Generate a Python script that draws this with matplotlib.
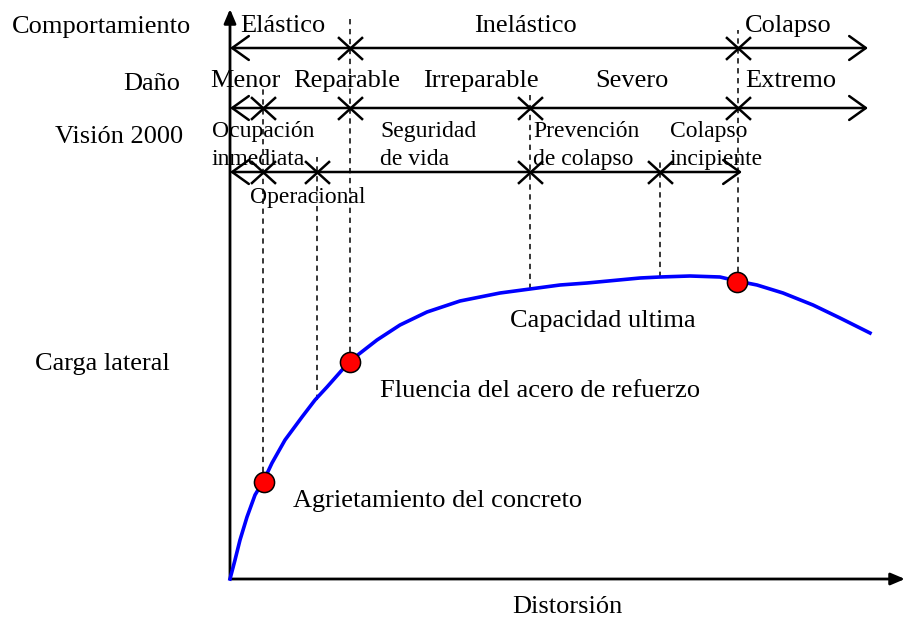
import numpy as np
import matplotlib.pyplot as plt
from matplotlib.path import Path

plt.rcParams["font.family"] = ["Liberation Serif", "DejaVu Serif"]

# capacity curve (distortion, lateral load)
distortion = [0, 5, 10, 17, 25, 34, 42, 55, 72, 85, 97, 120, 147, 170, 197, 230,
              270, 300, 330, 357, 410, 430, 460, 490, 507, 527, 553, 583, 610, 640]
lateral_load = [0, 19, 39, 62, 84, 99, 116, 139, 162, 179, 192, 218, 239, 254, 267, 278,
                286, 290, 294, 296, 301, 302, 303, 302, 298, 294, 286, 274, 261, 246]

# key points on the curve
point_d = [34, 120, 507]
point_v = [97, 217, 297]
point_labels = ["Agrietamiento del concreto", "Fluencia del acero de refuerzo", "Capacidad ultima"]

# performance bands
rows = ["Comportamiento", "Daño", "Visión 2000"]
row_y = [531, 471, 407]
row_end = [638, 638, 512]
row_bounds = [[120, 508], [33, 120, 300, 508], [33, 87, 300, 430]]

behaviour_labels = ["Elástico", "Inelástico", "Colapso"]
damage_labels = ["Menor", "Reparable", "Irreparable", "Severo", "Extremo"]
vision_labels = ["Ocupación\ninmediata", "Operacional", "Seguridad\nde vida",
                 "Prevención\nde colapso", "Colapso\nincipiente"]

# dashed guide lines: x, top, bottom (on the curve)
guide_x = [33, 87, 120, 300, 430, 508]
guide_top = [494, 422, 564, 484, 419, 549]
guide_bottom = [97, 179, 217, 290, 302, 297]

fig = plt.figure(figsize=(9.04, 6.18), dpi=100)
ax = fig.add_axes([0, 0, 1, 1])
ax.set_xlim(-230, 674)
ax.set_ylim(-39, 579)
ax.axis("off")

FS = 19
FS2 = 17

# axes with arrows
axis_arrow = dict(arrowstyle="-|>,head_length=8.5,head_width=3.6",
                  mutation_scale=1, lw=2, color="black", shrinkA=0, shrinkB=0)
ax.annotate("", xy=(0, 570), xytext=(0, 0), arrowprops=axis_arrow, annotation_clip=False)
ax.annotate("", xy=(675, 0), xytext=(0, 0), arrowprops=axis_arrow, annotation_clip=False)

# dashed guides
ax.vlines(guide_x, guide_bottom, guide_top, colors="black", linestyles=(0, (3.5, 3)), lw=1.1, zorder=1)

# capacity curve
ax.plot(distortion, lateral_load, color="#0000ff", lw=2.6, solid_joinstyle="round", zorder=3)
ax.plot(point_d, point_v, "o", ms=14.5, mfc="#ff0000", mec="black", mew=1.1, zorder=4)

# band lines
xmark = Path([(-1.1, -1), (1.1, 1), (-1.1, 1), (1.1, -1)],
             [Path.MOVETO, Path.LINETO, Path.MOVETO, Path.LINETO])
for y, end, bounds in zip(row_y, row_end, row_bounds):
    ax.annotate("", xy=(end, y), xytext=(0, y),
                arrowprops=dict(arrowstyle="<->,head_length=12,head_width=8.6",
                                mutation_scale=1, lw=1.8, color="black",
                                shrinkA=0, shrinkB=0))
    ax.plot(bounds, [y] * len(bounds), ls="none", marker=xmark, ms=18,
            mec="black", mew=1.8)

# row titles
ax.text(-218, 546, rows[0], fontsize=FS, va="baseline", ha="left")
ax.text(-50, 489, rows[1], fontsize=FS, va="baseline", ha="right")
ax.text(-47, 436, rows[2], fontsize=FS, va="baseline", ha="right")
ax.text(-195, 209, "Carga lateral", fontsize=FS, va="baseline", ha="left")

# behaviour labels
ax.text(10, 547, behaviour_labels[0], fontsize=FS, va="baseline", ha="left")
ax.text(295, 547, behaviour_labels[1], fontsize=FS, va="baseline", ha="center")
ax.text(515, 547, behaviour_labels[2], fontsize=FS, va="baseline", ha="left")

# damage labels
for x, lab in zip([-20, 63, 193, 365, 515], damage_labels):
    ax.text(x, 492, lab, fontsize=FS, va="baseline", ha="left")

# vision 2000 labels
for x, y, lab in zip([-18, 20, 150, 303, 440], [442, 376, 442, 442, 442], vision_labels):
    for i, line in enumerate(lab.split("\n")):
        ax.text(x, y - 28 * i, line, fontsize=FS2, va="baseline", ha="left")

# curve point labels
ax.text(63, 72, point_labels[0], fontsize=FS, va="baseline", ha="left")
ax.text(150, 182, point_labels[1], fontsize=FS, va="baseline", ha="left")
ax.text(373, 252, point_labels[2], fontsize=FS, va="baseline", ha="center")

ax.text(337, -34, "Distorsión", fontsize=FS, va="baseline", ha="center")

fig.savefig("out.png", dpi=100)
